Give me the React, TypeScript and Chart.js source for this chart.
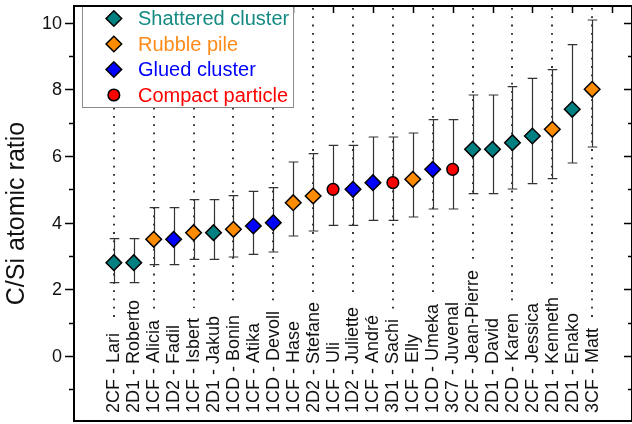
import React, { useEffect, useRef } from 'react';
import { Chart, registerables } from 'chart.js';

Chart.register(...registerables);

const FONT = "'Liberation Sans', Arial, Helvetica, sans-serif";

// ---- data ----
const codes = ['2CF', '2D1', '1CF', '1D2', '1CF', '2D1', '1CD', '1CF', '1CD', '1CF', '2D2', '1CF', '1D2', '1CF', '3D1', '1CF', '1CD', '3C7', '2CF', '2D1', '2CD', '2CF', '2D1', '2D1', '3CF'];
const names = ['Lari', 'Roberto', 'Alicia', 'Fadil', 'Isbert', 'Jakub', 'Bonin', 'Atika', 'Devoll', 'Hase', 'Stefane', 'Uli', 'Juliette', 'André', 'Sachi', 'Elly', 'Umeka', 'Juvenal', 'Jean-Pierre', 'David', 'Karen', 'Jessica', 'Kenneth', 'Enako', 'Matt'];
const ratios = [2.8, 2.8, 3.5, 3.5, 3.7, 3.7, 3.8, 3.9, 4.0, 4.6, 4.8, 5.0, 5.0, 5.2, 5.2, 5.3, 5.6, 5.6, 6.2, 6.2, 6.4, 6.6, 6.8, 7.4, 8.0];
const errLow = [2.2, 2.2, 2.74, 2.74, 2.9, 2.9, 2.97, 3.05, 3.12, 3.6, 3.75, 3.92, 3.92, 4.07, 4.07, 4.17, 4.41, 4.41, 4.87, 4.87, 5.01, 5.17, 5.32, 5.79, 6.27];
const errHigh = [3.52, 3.52, 4.45, 4.45, 4.69, 4.69, 4.81, 4.94, 5.05, 5.82, 6.07, 6.32, 6.32, 6.57, 6.57, 6.69, 7.09, 7.09, 7.83, 7.83, 8.08, 8.33, 8.59, 9.34, 10.08];
const classes = ['S', 'S', 'R', 'G', 'R', 'S', 'R', 'G', 'G', 'R', 'R', 'C', 'G', 'G', 'C', 'R', 'G', 'C', 'S', 'S', 'S', 'S', 'R', 'S', 'R'];

const classKeys = ['S', 'R', 'G', 'C'];
const classLabels = ['Shattered cluster', 'Rubble pile', 'Glued cluster', 'Compact particle'];
const classColors = ['#008080', '#FF8C00', '#0000FF', '#FF0000'];
const classTextColors = ['#138a82', '#FF8C1A', '#0000FF', '#FF0000'];
const classStyles = ['rectRot', 'rectRot', 'rectRot', 'circle'];

const yTicks = [-1, 0, 1, 2, 3, 4, 5, 6, 7, 8, 9, 10];
const yTickLabels = ['', '0', '', '2', '', '4', '', '6', '', '8', '', '10'];
const yTitle = 'C/Si atomic ratio';

function drawMarker(ctx: CanvasRenderingContext2D, style: string, x: number, y: number, fill: string) {
  ctx.beginPath();
  if (style === 'circle') {
    ctx.arc(x, y, 5.8, 0, Math.PI * 2);
  } else {
    const r = 7.8;
    ctx.moveTo(x - r, y);
    ctx.lineTo(x, y - r);
    ctx.lineTo(x + r, y);
    ctx.lineTo(x, y + r);
    ctx.closePath();
  }
  ctx.fillStyle = fill;
  ctx.fill();
  ctx.lineWidth = 1.5;
  ctx.strokeStyle = '#000';
  ctx.stroke();
}

const LABEL_BASE = 413;

const decor = {
  id: 'decor',
  beforeDatasetsDraw(chart: any) {
    const { ctx, chartArea: a, scales } = chart;
    const x = scales.x;
    const y = scales.y;
    ctx.save();
    ctx.font = `18px ${FONT}`;
    // dotted leader lines
    ctx.strokeStyle = '#222';
    ctx.lineWidth = 1.8;
    ctx.setLineDash([1.8, 6.5]);
    for (let i = 0; i < names.length; i += 2) {
      const px = Math.round(x.getPixelForValue(i));
      const w = ctx.measureText(`${codes[i]} - ${names[i]}`).width;
      const yEnd = LABEL_BASE - w - 10;
      ctx.beginPath();
      ctx.moveTo(px, a.top + 2);
      ctx.lineTo(px, yEnd);
      ctx.stroke();
    }
    ctx.setLineDash([]);
    // error bars
    ctx.strokeStyle = '#333';
    ctx.lineWidth = 1.2;
    for (let i = 0; i < ratios.length; i++) {
      const px = Math.round(x.getPixelForValue(i)) + 0.5;
      const yh = y.getPixelForValue(errHigh[i]);
      const yl = y.getPixelForValue(errLow[i]);
      ctx.beginPath();
      ctx.moveTo(px, yh);
      ctx.lineTo(px, yl);
      ctx.moveTo(px - 4.8, yh);
      ctx.lineTo(px + 4.8, yh);
      ctx.moveTo(px - 4.8, yl);
      ctx.lineTo(px + 4.8, yl);
      ctx.stroke();
    }
    ctx.restore();
  },
  afterDatasetsDraw(chart: any) {
    const { ctx, chartArea: a, scales } = chart;
    const x = scales.x;
    const y = scales.y;
    ctx.save();
    // category labels
    ctx.font = `18px ${FONT}`;
    ctx.fillStyle = '#111';
    ctx.textAlign = 'left';
    ctx.textBaseline = 'middle';
    for (let i = 0; i < names.length; i++) {
      const px = x.getPixelForValue(i);
      ctx.save();
      ctx.translate(px + 0.5, LABEL_BASE);
      ctx.rotate(-Math.PI / 2);
      ctx.fillText(`${codes[i]} - ${names[i]}`, 0, 0);
      ctx.restore();
    }
    // y tick labels
    ctx.textAlign = 'right';
    ctx.textBaseline = 'middle';
    for (let k = 0; k < yTicks.length; k++) {
      if (!yTickLabels[k]) continue;
      ctx.fillText(yTickLabels[k], a.left - 12, y.getPixelForValue(yTicks[k]) + 1);
    }
    // y title
    ctx.save();
    ctx.font = `25px ${FONT}`;
    ctx.textAlign = 'center';
    ctx.textBaseline = 'middle';
    ctx.translate(17, (a.top + a.bottom) / 2);
    ctx.rotate(-Math.PI / 2);
    ctx.fillText(yTitle, 0, 0);
    ctx.restore();
    // ticks
    ctx.strokeStyle = '#000';
    ctx.lineWidth = 1.5;
    ctx.beginPath();
    for (let k = 0; k < yTicks.length; k++) {
      const v = yTicks[k];
      const py = Math.round(y.getPixelForValue(v)) + 0.5;
      const major = !!yTickLabels[k];
      ctx.moveTo(a.left, py);
      ctx.lineTo(a.left - (major ? 9 : 5), py);
      ctx.moveTo(a.right, py);
      ctx.lineTo(a.right - (major ? 8 : 4), py);
    }
    for (let i = -1; i <= 25; i += 2) {
      const px = Math.round(x.getPixelForValue(i)) + 0.5;
      ctx.moveTo(px, a.top);
      ctx.lineTo(px, a.top + 7);
    }
    ctx.stroke();
    // legend
    const lx0 = 82.5, lx1 = 293.5, ly0 = a.top, ly1 = 107.5;
    ctx.fillStyle = '#fff';
    ctx.fillRect(lx0, ly0, lx1 - lx0, ly1 - ly0);
    ctx.strokeStyle = '#8a8a8a';
    ctx.lineWidth = 1;
    ctx.strokeRect(lx0, ly0, lx1 - lx0, ly1 - ly0);
    ctx.font = `20px ${FONT}`;
    ctx.textAlign = 'left';
    ctx.textBaseline = 'middle';
    for (let k = 0; k < classKeys.length; k++) {
      const ry = 18.5 + k * 25.5;
      drawMarker(ctx, classStyles[k], x.getPixelForValue(0), ry, classColors[k]);
      ctx.fillStyle = classTextColors[k];
      ctx.fillText(classLabels[k], 138, ry + 1);
    }
    // frame
    ctx.strokeStyle = '#000';
    ctx.lineWidth = 2;
    ctx.strokeRect(a.left, a.top, a.right - a.left, a.bottom - a.top);
    ctx.restore();
  },
};

export default function App() {
  const ref = useRef<HTMLCanvasElement | null>(null);
  useEffect(() => {
    if (!ref.current) return;
    const datasets = classKeys.map((k, ci) => {
      const idx = classes.map((c, i) => (c === k ? i : -1)).filter((i) => i >= 0);
      return {
        label: classLabels[ci],
        data: idx.map((i) => ({ x: i, y: ratios[i] })),
        pointStyle: classStyles[ci],
        pointRadius: classStyles[ci] === 'circle' ? 5.8 : 7.8,
        pointHoverRadius: classStyles[ci] === 'circle' ? 5.8 : 7.8,
        backgroundColor: classColors[ci],
        borderColor: '#000',
        borderWidth: 1.5,
        showLine: false,
        clip: false,
      };
    });
    const chart = new Chart(ref.current, {
      type: 'scatter',
      data: { datasets } as any,
      options: {
        animation: false,
        responsive: false,
        events: [],
        layout: { autoPadding: false, padding: { top: 6, right: -2, bottom: 3, left: 74 } },
        plugins: { legend: { display: false }, tooltip: { enabled: false } },
        scales: {
          x: { type: 'linear', min: -2, max: 26, display: false },
          y: { type: 'linear', min: -1.95, max: 10.5, display: false },
        },
      } as any,
      plugins: [decor],
    });
    return () => chart.destroy();
  }, []);
  return (
    <div style={{ position: 'absolute', left: 0, top: 0, width: 632, height: 424, overflow: 'hidden', background: '#fff' }}>
      <canvas ref={ref} width={632} height={424} style={{ display: 'block' }} />
    </div>
  );
}
